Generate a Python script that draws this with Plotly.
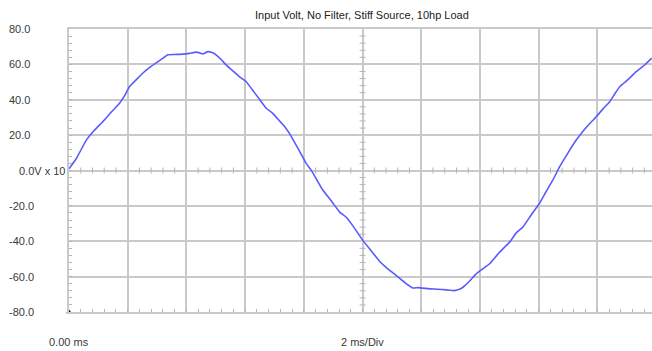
import numpy as np
import plotly.graph_objects as go

# time (ms) and voltage (V x10)
time_ms = [0, 0.25, 0.59, 0.85, 1.15, 1.45, 1.72, 1.9, 2.06, 2.3, 2.51, 2.75, 3.03, 3.2, 3.37,
           3.6, 3.88, 4.1, 4.33, 4.45, 4.56, 4.73, 4.85, 5.01, 5.2, 5.35, 5.6, 5.81, 6.04,
           6.25, 6.49, 6.7, 6.94, 7.2, 7.35, 7.51, 7.8, 8.08, 8.25, 8.45, 8.65, 8.95, 9.22,
           9.44, 9.7, 10.01, 10.3, 10.58, 10.85, 11.15, 11.45, 11.71, 11.9, 12.28, 12.55,
           12.85, 13.13, 13.3, 13.42, 13.65, 13.87, 14.1, 14.33, 14.65, 15.01, 15.25, 15.46,
           15.75, 16.03, 16.25, 16.48, 16.71, 17.0, 17.28, 17.6, 17.96, 18.2, 18.42, 18.6,
           18.76, 19.05, 19.32, 19.6, 19.85]
volts = [1, 6.8, 17.2, 22.5, 27.6, 33.2, 38, 42.5, 47.4, 51.5, 55, 58.3, 61.6, 63.5, 65.4,
         65.6, 65.8, 66.2, 66.9, 66.5, 65.9, 67.2, 66.8, 65.4, 62.5, 59.7, 56, 53, 50.2,
         45.5, 40.3, 35.5, 32.3, 27.5, 24.8, 21, 12.5, 4, 0.2, -5.5, -11.2, -17.5, -23.5,
         -26.3, -32, -39.5, -45.5, -51.3, -55.5, -59.4, -63.5, -66.4, -66.2, -66.9, -67.1,
         -67.5, -67.9, -67.2, -66, -62.5, -58.4, -55.5, -52.7, -46.5, -40.5, -35, -32,
         -25, -18.5, -12, -5.5, 2, 10, 17.2, 24, 30.4, 35, 38.9, 43.5,
         47.4, 51.5, 55.9, 59.5, 63.5]

y_ticks = [80, 60, 40, 20, 0, -20, -40, -60, -80]
y_labels = ["80.0", "60.0", "40.0", "20.0", "0.0V x 10", "-20.0", "-40.0", "-60.0", "-80.0"]
x_labels = {0: "0.00 ms", 10: "2 ms/Div"}
title = "Input Volt, No Filter, Stiff Source, 10hp Load"

GRID = "#c9c9c9"
TICK = "#b5b5b5"
FONT = dict(family="Liberation Sans, Arial, sans-serif", size=11, color="#3a3a3a")

fig = go.Figure()
fig.add_trace(go.Scatter(x=time_ms, y=volts, mode="lines",
                         line=dict(color="#5a5aff", width=1.6, shape="spline", smoothing=0.4),
                         hoverinfo="skip"))
fig.add_trace(go.Scatter(x=[0], y=[-80], mode="markers", cliponaxis=False,
                         marker=dict(symbol="triangle-up", size=5, color="black"),
                         hoverinfo="skip"))

# crossing minor ticks on the centre axes
shapes = []
for xv in np.arange(0.4, 19.86, 0.4):
    if abs(xv / 2 - round(xv / 2)) > 1e-6:
        shapes.append(dict(type="line", xref="x", yref="y", ysizemode="pixel", yanchor=0,
                           x0=xv, x1=xv, y0=-3, y1=3, line=dict(color=TICK, width=1)))
for yv in np.arange(-76, 80, 4):
    if abs(yv / 20 - round(yv / 20)) > 1e-6:
        shapes.append(dict(type="line", xref="x", yref="y", xsizemode="pixel", xanchor=10,
                           x0=-3, x1=3, y0=yv, y1=yv, line=dict(color=TICK, width=1)))

annotations = []
for v, lab in zip(y_ticks, y_labels):
    if lab.startswith("0.0V"):
        annotations.append(dict(x=0, y=v, xref="paper", yref="y", text=lab, showarrow=False,
                                xanchor="right", xshift=-2, font=FONT))
    else:
        annotations.append(dict(x=0, y=v, xref="paper", yref="y", text=lab, showarrow=False,
                                xanchor="left", xshift=-62, font=FONT))
for xv, lab in x_labels.items():
    annotations.append(dict(x=xv, y=0, xref="x", yref="paper", text=lab, showarrow=False,
                            yanchor="middle", yshift=-30, font=FONT))
annotations.append(dict(x=(362 - 69) / 583, y=1, xref="paper", yref="paper", text=title,
                        showarrow=False, yanchor="middle", yshift=14, font=dict(FONT, color="#222")))

fig.update_layout(
    width=652, height=351,
    margin=dict(l=69, r=0, t=29, b=39),
    paper_bgcolor="white", plot_bgcolor="white",
    showlegend=False,
    shapes=shapes, annotations=annotations,
    xaxis=dict(range=[0, 19.86], dtick=2, tick0=0, showticklabels=False,
               showgrid=True, gridcolor=GRID, gridwidth=1.5, zeroline=False,
               showline=True, linecolor=GRID, linewidth=1.5, mirror=True,
               ticks="inside", ticklen=3, tickcolor=TICK,
               minor=dict(dtick=0.4, ticks="inside", ticklen=3, tickcolor=TICK, showgrid=False)),
    yaxis=dict(range=[-80, 80], dtick=20, tick0=0, showticklabels=False,
               showgrid=True, gridcolor=GRID, gridwidth=1.5, zeroline=False,
               showline=True, linecolor=GRID, linewidth=1.5,
               ticks="inside", ticklen=3, tickcolor=TICK,
               minor=dict(dtick=4, ticks="inside", ticklen=3, tickcolor=TICK, showgrid=False)),
)

fig.write_html("out.html", config={"displayModeBar": False},
               post_script="document.body.style.margin='0';document.body.style.overflow='hidden';")
